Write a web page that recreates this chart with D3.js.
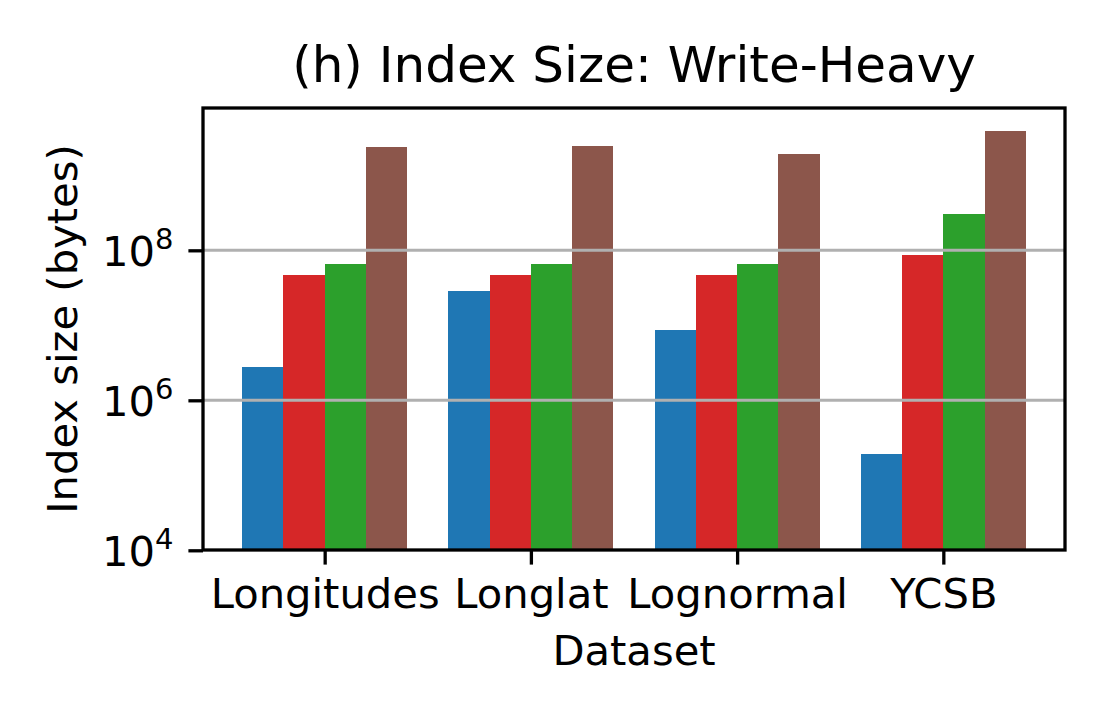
<!DOCTYPE html>
<html>
<head>
<meta charset="utf-8">
<script src="https://cdn.jsdelivr.net/npm/d3@7"></script>
<style>
  html, body { margin: 0; padding: 0; background: #fff; }
  svg { display: block; font-family: "DejaVu Sans", sans-serif; }
</style>
</head>
<body>
<div id="chart"></div>
<script>
const width = 1110;
const height = 720;
const margin = { top: 108, right: 45, bottom: 170, left: 203 };

// Data (bytes)
const datasets = ["Longitudes", "Longlat", "Lognormal", "YCSB"];
const seriesNames = ["Series 1", "Series 2", "Series 3", "Series 4"];
const series1 = [2.8e6, 2.9e7, 8.6e6, 1.9e5];
const series2 = [4.7e7, 4.7e7, 4.7e7, 8.6e7];
const series3 = [6.6e7, 6.6e7, 6.6e7, 3.05e8];
const series4 = [2.4e9, 2.46e9, 1.92e9, 3.95e9];
const yTicks = [1e4, 1e6, 1e8];
const colors = ["#1f77b4", "#d62728", "#2ca02c", "#8c564b"];

const allSeries = [series1, series2, series3, series4];

const svg = d3
    .select("#chart")
    .append("svg")
    .attr("width", width)
    .attr("height", height);

svg.append("rect").attr("width", width).attr("height", height).attr("fill", "#fff");

// x: category index, bars 0.2 wide each like matplotlib
const barW = 0.2;
const x = d3
    .scaleLinear()
    .domain([-0.59, datasets.length - 1 + 0.59])
    .range([margin.left, width - margin.right]);

const y = d3
    .scaleLog()
    .domain([1e4, 7.9e9])
    .range([height - margin.bottom + 0.3, margin.top]);

// Bars
const bars = [];
allSeries.forEach((vals, si) => {
    vals.forEach((v, ci) => {
        bars.push({ si, ci, v });
    });
});

svg.append("g")
    .attr("shape-rendering", "crispEdges")
    .selectAll("rect")
    .data(bars)
    .join("rect")
    .attr("x", (d) => x(d.ci + (d.si - 2) * barW))
    .attr("width", (d) => x(barW) - x(0))
    .attr("y", (d) => y(d.v))
    .attr("height", (d) => y(1e4) - y(d.v))
    .attr("fill", (d) => colors[d.si]);

// Gridlines (drawn over bars, as in the reference)
svg.append("g")
    .selectAll("line")
    .data(yTicks.slice(1))
    .join("line")
    .attr("x1", margin.left)
    .attr("x2", width - margin.right)
    .attr("y1", (d) => y(d))
    .attr("y2", (d) => y(d))
    .attr("stroke", "#b0b0b0")
    .attr("stroke-width", 3);

// Frame
svg.append("rect")
    .attr("x", margin.left)
    .attr("y", margin.top)
    .attr("width", width - margin.right - margin.left)
    .attr("height", height - margin.bottom - margin.top)
    .attr("fill", "none")
    .attr("stroke", "#000")
    .attr("stroke-width", 3.3);

// X axis
const xAxisG = svg
    .append("g")
    .attr("transform", `translate(0,${height - margin.bottom})`)
    .call(
        d3.axisBottom(x)
            .tickValues(d3.range(datasets.length))
            .tickFormat((i) => datasets[i])
            .tickSize(14.6)
            .tickPadding(14)
    );
xAxisG.select(".domain").remove();
xAxisG.selectAll(".tick line").attr("stroke", "#000").attr("stroke-width", 3.3);
xAxisG.selectAll(".tick text")
    .attr("font-size", 41.7)
    .attr("font-family", "DejaVu Sans")
    .attr("fill", "#000")
    .attr("dy", "0.71em");

// Y axis
const yAxisG = svg
    .append("g")
    .attr("transform", `translate(${margin.left},0)`)
    .call(d3.axisLeft(y).tickValues(yTicks).tickSize(14.6).tickPadding(14.6).tickFormat(""));
yAxisG.select(".domain").remove();
yAxisG.selectAll(".tick line").attr("stroke", "#000").attr("stroke-width", 3.3);
yAxisG.selectAll(".tick text").each(function (d) {
    const t = d3.select(this)
        .text(null)
        .attr("font-size", 41.7)
        .attr("font-family", "DejaVu Sans")
        .attr("fill", "#000")
        .attr("dy", 15)
        .attr("x", -29.5);
    t.append("tspan").text("10");
    t.append("tspan")
        .attr("font-size", 29)
        .attr("dy", -17)
        .text(Math.round(Math.log10(d)));
});

// Axis labels
svg.append("text")
    .attr("x", (margin.left + width - margin.right) / 2)
    .attr("y", 665)
    .attr("text-anchor", "middle")
    .attr("font-size", 41.7)
    .attr("fill", "#000")
    .text("Dataset");

svg.append("text")
    .attr("transform", `translate(77,${(margin.top + height - margin.bottom) / 2}) rotate(-90)`)
    .attr("text-anchor", "middle")
    .attr("font-size", 41.7)
    .attr("fill", "#000")
    .text("Index size (bytes)");

// Title
svg.append("text")
    .attr("x", (margin.left + width - margin.right) / 2)
    .attr("y", 82)
    .attr("text-anchor", "middle")
    .attr("font-size", 50)
    .attr("fill", "#000")
    .text("(h) Index Size: Write-Heavy");
</script>
</body>
</html>
